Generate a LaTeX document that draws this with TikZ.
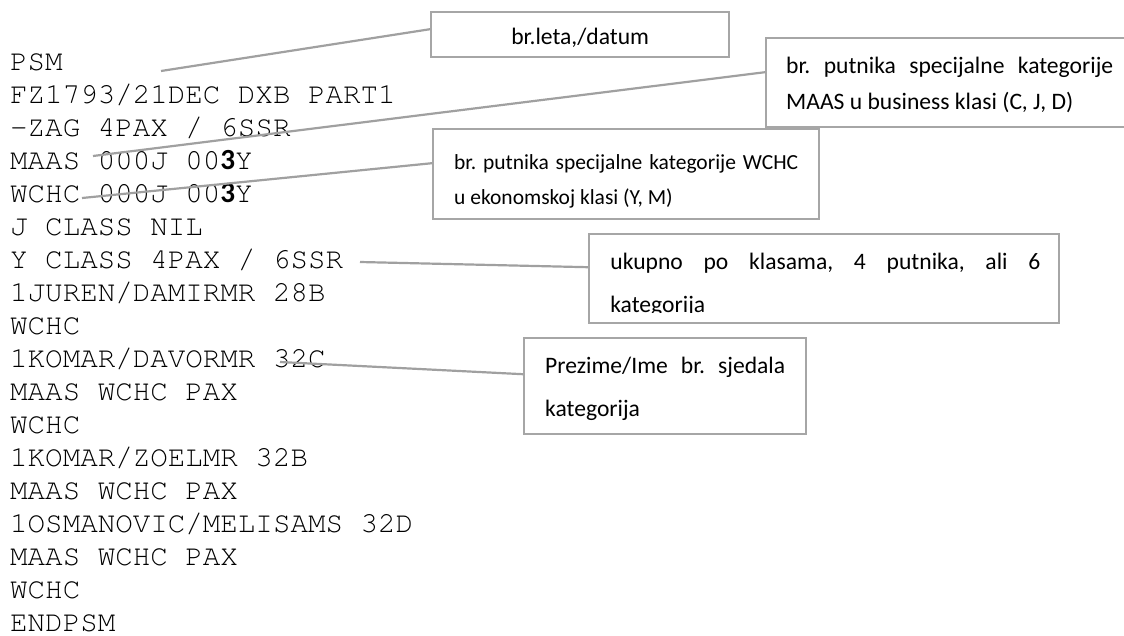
\documentclass[tikz,border=0pt]{standalone}
\usepackage[T1]{fontenc}
\usepackage{fontspec}
\newfontfamily\notefont{Carlito}
\usetikzlibrary{positioning}

\definecolor{boxgray}{RGB}{166,166,166}
\definecolor{leadgray}{RGB}{160,160,160}

% text block of a note: width, height, first baseline, line skip, text
\newcommand{\notetext}[5]{\parbox[c][#2][t]{#1}{\frenchspacing\baselineskip=#4\rule{0pt}{#3}#5}}
\newcommand{\fullline}[1]{\makebox[\linewidth][s]{#1}}
\newcommand{\bthree}{{\notefont\bfseries 3}}

\tikzset{
  listing/.style={anchor=base west, inner sep=0pt,
    font=\fontencoding{T1}\fontfamily{pcr}\fontsize{29.2}{33}\selectfont},
  note/.style={draw=boxgray, line width=2.4pt, fill=white, anchor=north west,
    inner xsep=0pt, inner ysep=0pt, font=\notefont\fontsize{23.6}{36}\selectfont},
  leader/.style={draw=leadgray, line width=2.2pt},
}

\begin{document}
\begin{tikzpicture}[x=1pt, y=-1pt]
  \useasboundingbox (0,0) rectangle (1124,635);
  \fill[white] (0,0) rectangle (1124,635);

  % the message
  \foreach \txt [count=\i from 0] in {PSM, {FZ1793/21DEC DXB PART1}, {-ZAG 4PAX / 6SSR},
      {MAAS 000J 00\bthree{}Y}, {WCHC 000J 00\bthree{}Y}, {J CLASS NIL},
      {Y CLASS 4PAX / 6SSR}, {1JUREN/DAMIRMR 28B}, WCHC, {1KOMAR/DAVORMR 32C},
      {MAAS WCHC PAX}, WCHC, {1KOMAR/ZOELMR 32B}, {MAAS WCHC PAX},
      {1OSMANOVIC/MELISAMS 32D}, {MAAS WCHC PAX}, WCHC, ENDPSM}
    \node[listing] (line\i) at (10,{70.5+33*\i}) {\txt};

  % notes
  \node[note, minimum width=298pt, minimum height=45pt] (flight) at (430,11)
    {\notetext{258pt}{45pt}{32pt}{36pt}{\centering br.leta,/datum}};
  \node[note, minimum width=367pt, minimum height=89pt] (maas) at (765,37)
    {\notetext{327pt}{89pt}{35pt}{36pt}{\fullline{br. putnika specijalne kategorije}\\
      MAAS u business klasi (C, J, D)}};
  \node[note, minimum width=386pt, minimum height=90pt,
    font=\notefont\fontsize{21.5}{35}\selectfont] (wchc) at (432,128)
    {\notetext{344pt}{90pt}{40pt}{35pt}{\fullline{br. putnika specijalne kategorije WCHC}\\
      u ekonomskoj klasi (Y, M)}};
  \node[note, minimum width=470pt, minimum height=89pt, path picture={
      \clip ([yshift=11pt]path picture bounding box.south west)
        rectangle (path picture bounding box.north east);
      \node[anchor=north west, inner sep=0pt, minimum width=0pt, minimum height=0pt,
        font=\notefont\fontsize{23.6}{36}\selectfont]
        at ([xshift=20pt]path picture bounding box.north west)
        {\notetext{430pt}{89pt}{34pt}{43pt}{\fullline{ukupno po klasama, 4 putnika, ali 6}\\
          kategorija}};
    }] (total) at (588,233) {};
  \node[note, minimum width=282pt, minimum height=96pt] (name) at (523,337)
    {\notetext{240pt}{96pt}{35pt}{43pt}{\fullline{Prezime/Ime br. sjedala}\\
      kategorija}};

  % leaders
  \coordinate (psmtip) at (161,71);
  \coordinate (maastip) at (93,156);
  \coordinate (wchctip) at (82,198);
  \coordinate (totaltip) at (360,262);
  \coordinate (nametip) at (280,362);
  \draw[leader] (psmtip) -- ([yshift=5.5pt]flight.west);
  \draw[leader] (maastip) -- ([yshift=10.5pt]maas.west);
  \draw[leader] (wchctip) -- ([yshift=11pt]wchc.west);
  \draw[leader] (totaltip) -- ([yshift=11.5pt]total.west);
  \draw[leader] (nametip) -- ([yshift=12pt]name.west);
\end{tikzpicture}
\end{document}
